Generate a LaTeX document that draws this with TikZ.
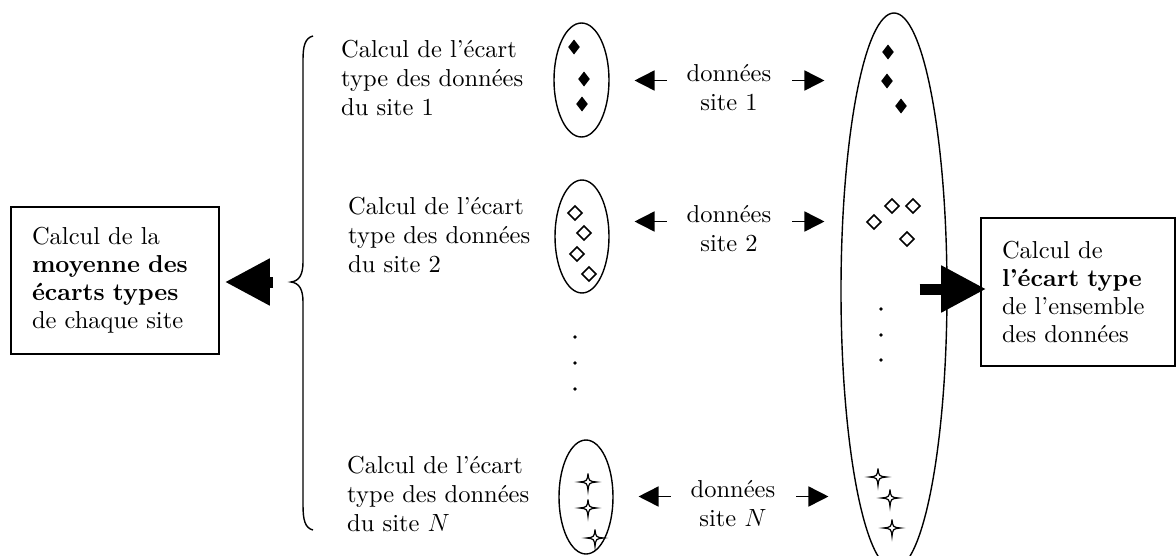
\documentclass[tikz,border=0pt]{standalone}
\usepackage{fontspec}
\setmainfont{lmroman10-regular}[Extension=.otf, BoldFont=lmroman10-bold, ItalicFont=lmroman10-italic]
\usetikzlibrary{arrows.meta,shapes.geometric,calc}
\begin{document}
\begin{tikzpicture}[x=1pt,y=-1pt,
  font=\fontsize{24.5}{29}\selectfont,
  txt/.style={inner sep=0pt, align=left, anchor=west},
  lab/.style={inner sep=0pt, align=center},
  grp/.style={draw, ellipse, line width=1.4pt, inner sep=0pt},
  resbox/.style={draw, line width=1.6pt, align=left, inner xsep=21pt,
    font=\fontsize{24.5}{28}\selectfont},
  smallarr/.style={line width=1.6pt, -{Triangle[length=20pt,width=20pt]}},
  bigarr/.style={line width=11pt, -{Triangle[length=45pt,width=44pt]}},
  fdia/.pic={\fill (0,-7.5) -- (5.8,0) -- (0,7.5) -- (-5.8,0) -- cycle;},
  odia/.pic={\draw[line width=1.5pt, line join=miter] (0,-7) -- (7,0) -- (0,7) -- (-7,0) -- cycle;},
  fstar/.pic={\draw[line width=1.2pt, fill=white] (0,-8.5) .. controls (0.9,-0.9) .. (8.5,0)
      .. controls (0.9,0.9) .. (0,8.5) .. controls (-0.9,0.9) .. (-8.5,0) .. controls (-0.9,-0.9) .. (0,-8.5);},
  pt/.style={fill=black}
]
\useasboundingbox (0,0) rectangle (1176,555);
\clip (0,0) rectangle (1176,555);

% result boxes
\node[resbox, text width=166pt, minimum height=147pt] (mean) at (115,280.5)
  {Calcul de la\\\textbf{moyenne des}\\\textbf{écarts types}\\de chaque site};
\node[resbox, text width=152pt, minimum height=148pt] (total) at (1078,292)
  {Calcul de\\\textbf{l’écart type}\\de l’ensemble\\des données};

% per-site captions
\node[txt] (c1) at (341,77.5) {Calcul de l’écart\\type des données\\du site 1};
\node[txt] (c2) at (348,235) {Calcul de l’écart\\type des données\\du site 2};
\node[txt] (cN) at (347,494) {Calcul de l’écart\\type des données\\du site $N$};

% per-site groups
\node[grp, minimum width=55pt, minimum height=114pt] (e1) at (581.5,80) {};
\node[grp, minimum width=54pt, minimum height=113pt] (e2) at (582,236.5) {};
\node[grp, minimum width=54pt, minimum height=114pt] (eN) at (586,497) {};

% whole data set
\node[grp, minimum width=106pt, minimum height=556pt] (bigE) at (894,291) {};

% data labels
\node[lab] (lab1) at (729,87.5) {données\\site 1};
\node[lab] (lab2) at (729,228.5) {données\\site 2};
\node[lab] (labN) at (733,503.5) {données\\site $N$};

% small arrows
\foreach \l in {lab1,lab2,labN}{
  \draw[smallarr] ($(\l.west)+(-20,-7)$) -- ($(\l.west)+(-52,-7)$);
  \draw[smallarr] ($(\l.east)+(21,-7)$) -- ($(\l.east)+(53,-7)$);
}

% brace
\coordinate (bt) at (291,282);
\draw[line width=1.4pt] (313,36) .. controls (305,38) and (303,46) .. (303,60)
  -- (303,262) .. controls (303,275) and (299,281) .. (bt)
  .. controls (299,283) and (303,289) .. (303,302)
  -- (303,505) .. controls (303,520) and (305,528) .. (313,530);

% big arrows
\draw[bigarr] ($(bt)+(-18,0)$) -- ($(mean.east |- bt)+(5,0)$);
\draw[bigarr] ($(bigE.east)+(-28,-2)$) -- ($(total.west)+(6,-3)$);

% site markers
\pic at (574,47) {fdia}; \pic at (584,79) {fdia}; \pic at (582,104) {fdia};
\pic at (575,213) {odia}; \pic at (584,233) {odia}; \pic at (577,254) {odia}; \pic at (589,274) {odia};
\pic at (588,482) {fstar}; \pic at (588,508) {fstar}; \pic at (595,538) {fstar};
\foreach \yy in {337,363,389} \fill[pt] (575,\yy) circle (1.8);

% markers in the whole set
\pic at (888,52) {fdia}; \pic at (887,81) {fdia}; \pic at (901,106) {fdia};
\pic at (892,206) {odia}; \pic at (913,206) {odia}; \pic at (874,222) {odia}; \pic at (907,239) {odia};
\foreach \yy in {309,335,360} \fill[pt] (881,\yy) circle (1.8);
\pic at (878,477) {fstar}; \pic at (890,498) {fstar}; \pic at (892,528) {fstar};
\end{tikzpicture}
\end{document}
